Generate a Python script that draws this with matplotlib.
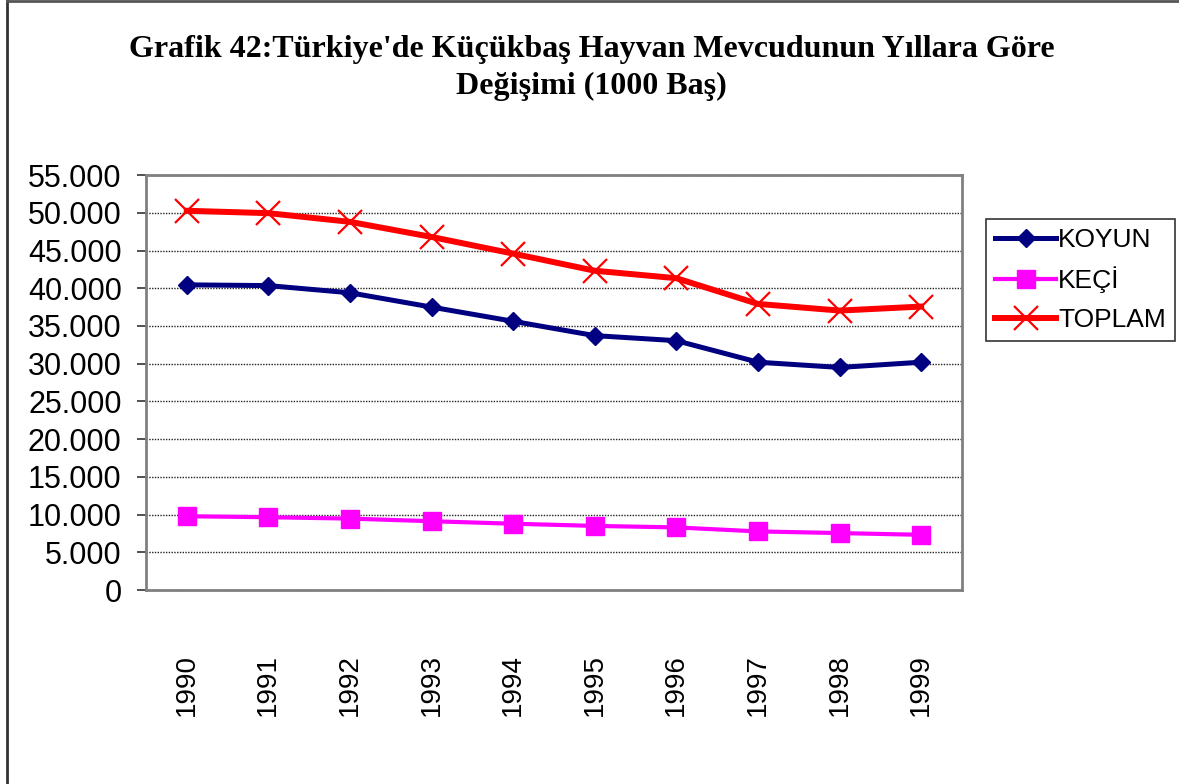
#!/usr/bin/env python3
"""Small ruminant stock in Turkey by year (1000 head), line chart."""

import matplotlib

matplotlib.use("Agg")
import matplotlib.pyplot as plt
from matplotlib.lines import Line2D
from matplotlib.ticker import FuncFormatter, MultipleLocator

YEARS = ["1990", "1991", "1992", "1993", "1994", "1995", "1996", "1997", "1998", "1999"]
KOYUN = [40450, 40350, 39400, 37500, 35620, 33720, 33050, 30200, 29500, 30200]
KECI = [9780, 9650, 9470, 9120, 8790, 8500, 8300, 7770, 7550, 7320]
TOPLAM = [50270, 49950, 48800, 46800, 44590, 42320, 41330, 37920, 37040, 37570]

TITLE = "Grafik 42:Türkiye'de Küçükbaş Hayvan Mevcudunun Yıllara Göre\nDeğişimi (1000 Baş)"

SANS = ["Liberation Sans", "DejaVu Sans"]
SERIF = ["Liberation Serif", "DejaVu Serif"]


def thousands(value, _pos):
    # 55000 -> "55.000"
    return f"{int(value):,}".replace(",", ".")


def main() -> int:
    plt.rcParams["font.family"] = SANS

    fig = plt.figure(figsize=(11.79, 7.84), dpi=100)
    ax = fig.add_axes([0.1238, 0.2474, 0.6921, 0.5293])

    x = list(range(len(YEARS)))
    ax.plot(x, KOYUN, color="#000080", lw=3.6, marker="D", ms=9.5, label="KOYUN")
    ax.plot(x, KECI, color="#ff00ff", lw=3.0, marker="s", ms=13, label="KEÇİ")
    ax.plot(x, TOPLAM, color="#ff0000", lw=4.3, marker="x", ms=17, mew=1.6,
            label="TOPLAM")

    ax.set_xlim(-0.5, len(YEARS) - 0.5)
    ax.set_ylim(0, 55000)
    ax.yaxis.set_major_locator(MultipleLocator(5000))
    ax.yaxis.set_major_formatter(FuncFormatter(thousands))
    ax.grid(axis="y", color="#222222", lw=1.0, ls=(0, (1, 1)))
    ax.set_axisbelow(True)

    for spine in ax.spines.values():
        spine.set_color("#808080")
        spine.set_linewidth(2.0)

    ax.tick_params(axis="y", labelsize=22, length=6.5, width=1.2, color="#333333",
                   pad=11)
    ax.set_xticks(x)
    ax.set_xticklabels(YEARS)
    ax.tick_params(axis="x", labelsize=20, labelrotation=90, length=0, pad=91)
    plt.setp(ax.get_xticklabels(), va="bottom")

    leg = ax.legend(loc="upper left", bbox_to_anchor=(986 / 1179, 1 - 219 / 784),
                    bbox_transform=fig.transFigure, fontsize=19, frameon=True,
                    fancybox=False, edgecolor="black", handlelength=2.3,
                    handletextpad=0.08, labelspacing=0.55, borderpad=0.35,
                    borderaxespad=0)
    leg.get_frame().set_linewidth(1.2)

    fig.text(0.502, 0.913, TITLE, ha="center", va="center", fontsize=23,
             fontweight="bold", family=SERIF, linespacing=1.38)

    # outer frame of the chart area
    fig.add_artist(Line2D([7 / 1179, 7 / 1179], [0, 1 - 1 / 784], color="#333333",
                          lw=2, transform=fig.transFigure))
    fig.add_artist(Line2D([7 / 1179, 1], [1 - 1 / 784, 1 - 1 / 784], color="#555555",
                          lw=2, transform=fig.transFigure))

    fig.savefig("out.png", dpi=100)
    plt.close(fig)
    return 0


if __name__ == "__main__":
    raise SystemExit(main())
